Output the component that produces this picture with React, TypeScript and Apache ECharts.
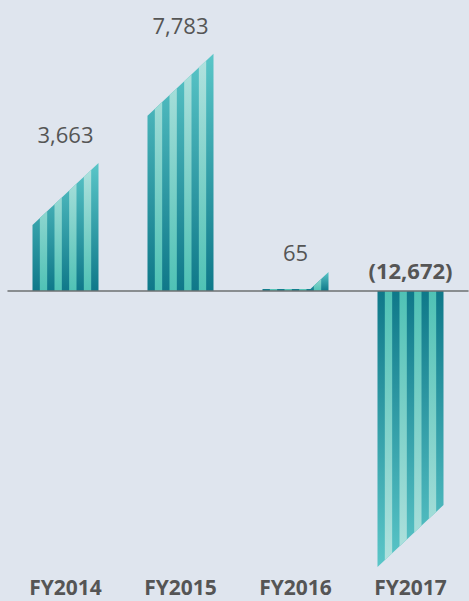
import React, { useEffect, useRef } from 'react';
import * as echarts from 'echarts';

const categories: string[] = ['FY2014', 'FY2015', 'FY2016', 'FY2017'];
const values: number[] = [3663, 7783, 65, -12672];

const positiveData = values.map((v, i) => [i, v]).filter((d) => d[1] >= 0);
const negativeData = values.map((v, i) => [i, v]).filter((d) => d[1] < 0);

const formatValue = (v: number): string =>
  v < 0 ? `(${Math.abs(v).toLocaleString('en-US')})` : v.toLocaleString('en-US');

const DARK_FAR = '#5ac6c8';
const DARK_NEAR = '#0f7889';
const LIGHT_FAR = '#b3e2df';
const LIGHT_NEAR = '#4fc2b5';
const STRIPES = 9;
const SLOPE = 0.94;
const FLAT = 2;
const MIN_CAP = 17;
const BAR_RATIO = 0.574;

const renderBar = (params: any, api: any) => {
  const i = api.value(0);
  const v = api.value(1);
  const base = api.coord([i, 0]);
  const end = api.coord([i, v]);
  const bw = api.size([1, 0])[0] * BAR_RATIO;
  const cx = base[0];
  const y0 = base[1];
  const xl = cx - bw / 2;
  const xr = cx + bw / 2;
  const drop = SLOPE * bw;
  const neg = v < 0;
  const mid = Math.abs(end[1] - y0);
  let h: (x: number) => number;
  let xk = xl;
  let hMax: number;
  let hR: number;
  if (!neg) {
    hR = mid + drop / 2;
    const hL = mid - drop / 2;
    if (hL < FLAT) {
      hR = Math.min(hR, FLAT + MIN_CAP);
      xk = xr - (hR - FLAT) / SLOPE;
    }
    const hr = hR;
    h = (x: number) => Math.max(FLAT, hr - SLOPE * (xr - x));
    hMax = hR;
  } else {
    const hL = mid + drop / 2;
    hR = hL - drop;
    h = (x: number) => hL - SLOPE * (x - xl);
    hMax = hL;
  }
  const sgn = neg ? 1 : -1;
  const pt = (x: number) => [x, y0 + sgn * h(x)];
  const poly = (a: number, b: number) => {
    const pts: number[][] = [[a, y0], pt(a)];
    if (!neg && xk > a && xk < b) pts.push(pt(xk));
    pts.push(pt(b));
    pts.push([b, y0]);
    return pts;
  };
  const grad = (far: string, near: string) =>
    neg
      ? new echarts.graphic.LinearGradient(0, y0, 0, y0 + hMax, [
          { offset: 0, color: near },
          { offset: 1, color: far },
        ], true)
      : new echarts.graphic.LinearGradient(0, y0 - hMax, 0, y0, [
          { offset: 0, color: far },
          { offset: 1, color: near },
        ], true);
  const sw = bw / STRIPES;
  const children: any[] = [
    { type: 'polygon', shape: { points: poly(xl, xr) }, style: { fill: grad(DARK_FAR, DARK_NEAR) } },
  ];
  for (let j = 1; j < STRIPES; j += 2) {
    children.push({
      type: 'polygon',
      shape: { points: poly(xl + j * sw, xl + (j + 1) * sw) },
      style: { fill: grad(LIGHT_FAR, LIGHT_NEAR) },
    });
  }
  const labelY = neg ? y0 - 21 : y0 - hR - (hR < 40 ? 20 : 29);
  children.push({
    type: 'text',
    x: cx,
    y: labelY,
    style: {
      text: formatValue(v),
      fill: '#555555',
      fontFamily: 'Open Sans',
      fontSize: 22,
      fontWeight: neg ? 'bold' : 'normal',
      align: 'center',
      verticalAlign: 'middle',
    },
  });
  return { type: 'group', children };
};

export default function App() {
  const ref = useRef<HTMLDivElement>(null);
  useEffect(() => {
    if (!ref.current) return;
    const chart = echarts.init(ref.current, undefined, { renderer: 'svg' });
    chart.setOption({
      animation: false,
      backgroundColor: '#dfe5ee',
      grid: { left: 8, right: 1, top: 30, bottom: 31 },
      xAxis: [
        {
          type: 'category',
          data: categories,
          position: 'bottom',
          axisLine: { show: false, onZero: false },
          axisTick: { show: false },
          axisLabel: {
            color: '#555555',
            fontFamily: 'Open Sans',
            fontWeight: 'bold',
            fontSize: 21,
            lineHeight: 18,
            margin: 8,
          },
        },
        {
          type: 'category',
          data: categories,
          z: 10,
          axisLine: { show: true, onZero: true, onZeroAxisIndex: 0, lineStyle: { color: '#6e7072', width: 1.5 } },
          axisTick: { show: false },
          axisLabel: { show: false },
        },
      ],
      yAxis: [
        { type: 'value', min: -10528, max: 9849, show: false },
        { type: 'value', min: -14430, max: 13500, show: false },
      ],
      series: [
        { type: 'custom', xAxisIndex: 0, yAxisIndex: 0, data: positiveData, renderItem: renderBar, encode: { x: 0, y: 1 } },
        { type: 'custom', xAxisIndex: 0, yAxisIndex: 1, data: negativeData, renderItem: renderBar, encode: { x: 0, y: 1 } },
      ],
    });
    return () => chart.dispose();
  }, []);
  return <div ref={ref} style={{ position: 'fixed', left: 0, top: 0, width: 469, height: 601 }} />;
}
